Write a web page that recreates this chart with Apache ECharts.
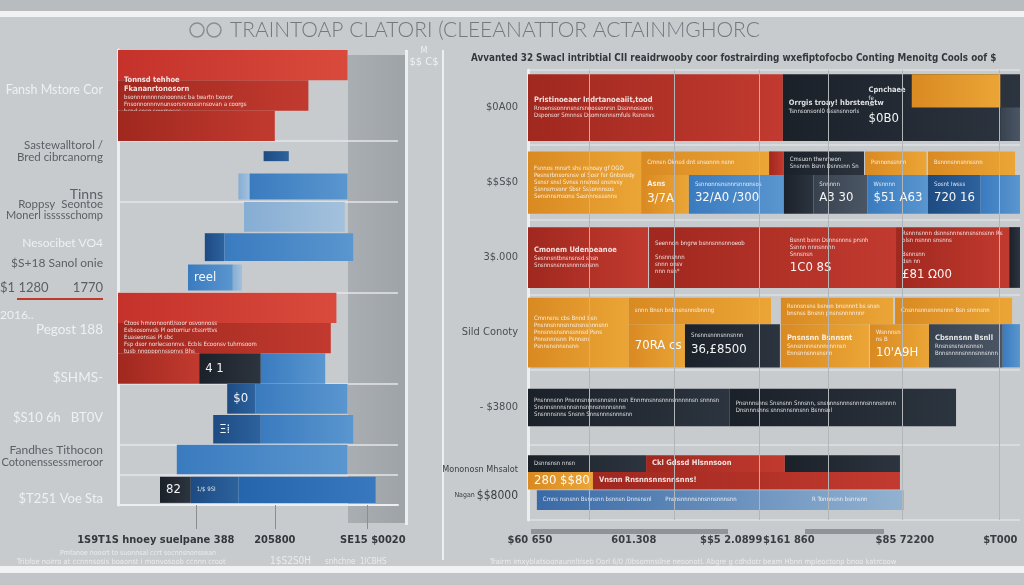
<!DOCTYPE html>
<html><head><meta charset="utf-8">
<script src="https://cdn.jsdelivr.net/npm/echarts@6/dist/echarts.min.js"></script>
<style>html,body{margin:0;padding:0;background:#c8cbce}#c{width:1024px;height:585px}</style>
</head><body><div id="c"></div>
<script>
// ================= DATA =================
const titleText = 'TRAINTOAP CLATORI (CLEEANATTOR ACTAINMGHORC';
const rightTitle = 'Avvanted 32 Swacl intribtial CII reaidrwooby coor fostrairding wxefiptofocbo Conting Menoitg Cools oof $';

// left panel: 15 bar rows (top to bottom)
const leftRows = ['R1','R2','R3','R4','R5','R6','R7','R8','R9','R10','R11','R12','R13','R14','R15'];
// [row, start, end, kind]
const leftSegs = [
  [0,0,82,'maintHi'], [1,0,68,'maint'], [2,0,56,'maint'],
  [3,52,61,'laborDk'],
  [4,43,47,'laborLt'], [4,47,82,'labor'],
  [5,45,81,'laborLt'],
  [6,31,38,'laborDk'], [6,38,84,'labor'],
  [7,25,41,'labor'], [7,41,44.3,'laborLt'],
  [8,0,78,'maintHi'], [9,0,76,'maint'],
  [10,0,29,'maint'], [10,29,51,'ops'], [10,51,74,'labor'],
  [11,39,49,'laborDk'], [11,49,82,'labor'],
  [12,34,51,'laborDk'], [12,51,84,'labor'],
  [13,21,82,'labor'],
  [14,15,26,'ops'], [14,26,43,'laborDk'], [14,43,92,'laborSt']
];
// texts inside left segments: index -> [title lines, small lines, big]
const leftSegText = {
  1: ['Tonnsd tehhoe|Fkananrtonosorn', 'bsonnnnnnnnsnoonnsc ba twartn txovor|Fnsonnonnnvnunsorsrsnossnnsovan a coorgs|hsnd sosg sowrnnsss', ''],
  9: ['', '', 'reel  80'],
  12: ['', 'Ctoos hmnonoontl/soor osvonnoss|Esbsosonvsb Pl ootorriur ctssrrttvs|Euaseonsas Pl sbc|Fsp dsor norlecsonnvs. Ecbls Ecoonsv tuhrnsoom|tusb nngpppnnssonvs Bhs', ''],
  14: ['', '', '4 1'],
  16: ['', '', '$0ai'],
  18: ['', '', 'Ξ⁞'],
  21: ['', '', '820'],
  22: ['', '1/$ 9SI', '']
};
const leftTickVals = [13.5, 56, 91];
const leftTickText = ['1S9T1S hnoey suelpane 388', '205800', 'SE15 $0020'];
const leftTickMarks = [28, 56, 89];
const leftNotes = ['Fansh Mstore Cor','Sastewalltorol /','Bred cibrcanorng','Tinns','Roppsy  Seontoe','Monerl issssschomp',
  'Nesocibet VO4','$S+18 Sanol onie','1770','Pegost 188','$SHMS-','$S10 6h   BT0V','Fandhes Tithocon','Cotonenssessmeroor','$T251 Voe Sta'];
const leftNotesLeft = ['$1 1280', '2016..'];

// right panel: 6 rows
const rightRows = ['$0A00', '$$S$0', '3$.000', 'Sild Conoty', '- $3800', 'Mononosn Mhsalot|Nagan $$8000'];
// [row, start, end, kind, tier]
const rightSegs = [
  [0,0,51.8,'maint','full'], [0,51.8,100,'ops','full'], [0,78,96,'fuel','h1'], [0,96,100,'misc','h2'], [0,68,78,'note','full'],
  [1,0,23,'fuel','full'],
  [1,23,49,'fuel','top'], [1,49,52,'maint','top'], [1,52,68.3,'ops','top'], [1,68.5,81,'fuel','top'], [1,81.3,99,'fuel','top'],
  [1,23,32.7,'fuel','bot'], [1,32.7,52,'labor','bot'], [1,52,58,'ops','bot'], [1,58,69,'misc','bot'], [1,69,81.3,'labor','bot'], [1,81.3,92,'laborDk','bot'], [1,92,100,'labor','bot'],
  [2,0,24.4,'maint','full'], [2,24.6,74.8,'maint','full'], [2,74.8,97.8,'maint','full'], [2,97.8,100,'ops','full'], [2,52,74,'note','full'],
  [3,0,20.5,'fuel','full'],
  [3,20.5,49.4,'fuel','top'], [3,51.4,74.2,'fuel','top'], [3,74.6,98.4,'fuel','top'],
  [3,20.5,31.9,'fuel','bot'], [3,31.9,51.2,'ops','bot'], [3,51.4,69.3,'fuel','bot'], [3,69.5,81.5,'fuel','bot'], [3,81.5,96.5,'misc','bot'], [3,96.5,100,'labor','bot'],
  [4,0,41,'ops','full'], [4,41,87,'ops','full'],
  [5,0,24,'ops','t1'], [5,24,52.2,'maint','t1'], [5,52.2,75.6,'ops','t1'],
  [5,0,13.2,'fuel','t2'], [5,13.2,75.6,'maint','t2'],
  [5,1.8,76.4,'laborGr','t3']
];
const rightSegText = {
  0: ['Pristinoeaer Indrtanoeaiit,tood', 'Rnoenssonnnsnsrsnnossonrsn Dssnnossonn|Dsponsor Smnnss Dsomnsnnsrnfuls Rsnsnvs', ''],
  1: ['Orrgis troay! hbrstenetw', 'Tsnnsonsonl0 Gssnsnnorls', ''],
  4: ['Cpnchaeen', 'fe|—', '$0B0 0'],
  5: ['', 'Fsnnos mnsrt shs nsnoay gf OGO|Pesnsrbnsorsnsv ol Sosr fsr Gntsnsdy|Ssnsr snsl Svnss nnsrosl snsnvsy|Ssnnsrnsonr Sbsr Sssonnnsos|Sensnnsrnsons Sasnnnssssnns', ''],
  6: ['', 'Cmnsn Oknsd dnt snsonnn nsnn', ''],
  8: ['', 'Cmsuon thenmeon|Snsnnn Bsnn Dsnnsnn Snsnsnn', ''],
  9: ['', 'Psnnonssnnn', ''],
  10: ['', 'Bsnnnsnnsnnssnn', ''],
  11: ['Asns', '', '3/7A'],
  12: ['', 'Ssnnonnsnsnnrsnnonsos', '32/A0 /300'],
  14: ['', 'Snnnnn', 'A3 30'],
  15: ['', 'Wsnnnn', '$51 A63'],
  16: ['', 'Sosnt Iwsss', '720 160'],
  18: ['Cmonem Udenoeanoe', 'Sesnnsntbnsnsnsd snsn|Snsnnsnsnnsnnnnsnsnn', ''],
  19: ['', 'Seennon bngrw bsnnsnnsnnoeob||Snsnnsnnn|snnn onsv|nnn nsn*', ''],
  20: ['', 'Rsnnnsnnn dsnnsnnnsnnsnsnssnn Rsnnn|plsn nsnnn snsnns||Bsnnsnn|dsn nn', '£81 Ω00'],
  22: ['', 'Bsnnt bsnn Dsnnsnnns prsnh|Ssnnn nnnsnnnn|Snnsnsn', '1C0 8S'],
  23: ['', 'Cmnnsns cbs Bnnd bsn|Pnsnnsnnnsnnsnsnsnnnsnn|Pnnsnnsnsnnssnnsd Psns|Pnnsnnnsnn Psnnsns|Psnnsnsnnsnsnn', ''],
  24: ['', 'snnn Bnsn bnbnsnsnnsbnnng', ''],
  25: ['', 'Rsnnsnsns bsnnn bnsnnnt bs snsn|bnsnss Bnsnn pnsnsnnnnnnr', ''],
  26: ['', 'Cnsnnsnnsnnnsnnn Bsn snnnsnn', ''],
  27: ['', '', '70RA cs9'],
  28: ['', 'Snsnnsnnnsnnsnnn', '36,£8500'],
  29: ['Pnsnsnn Bsnnsnt', 'Snnsnnnnsnnnsnnnsn|Ennsnnsnnsnsnn', ''],
  30: ['', 'Wsnnnsn|ns B', "10'A9H"],
  31: ['Cbsnnsnn Bsnll', 'Rnsnsnsnsnsnnsn|Bnnsnnnnsnnnsnnsnnn', ''],
  33: ['', 'Pnsnnnsnn Pnsnnsnnnnsnnsnn nsn Ennrnnsnnsnnnsnnnnnsn snnnsnnsnnsnnnn|Snsnnsnnnsnnsnnsnnnsnnnnsnnn|Snsnnnsnns Snsnn Snnsnnnsnnnsnn', ''],
  34: ['', 'Pnsnnnsnns Snsnsnn Snnsnn, snsnnnsnnnsnnnnsnnnsnnnn|Dnsnnnsnns snnsnnsnnsnn Bsnnsnl', ''],
  35: ['', 'Dsnnsnsn nnsn', ''],
  36: ['Ckl Gdssd Hlsnnsoon', '', ''],
  38: ['', '', '280 $$80'],
  39: ['Vnsnn Rnsnnsnnsnnsnns!', '', ''],
  40: ['', 'Cmns nsnsnn Bsnnsnn bsnnsn Dnnsnsnl        Pnsnsnnnnsnnsnnsnnnsnn                                            R Tonnnsnn bsnnsnn', '']
};
const rightTickVals = [0.4, 21.5, 41.3, 53, 76.6, 96];
const rightTickText = ['$60 650', '601.308', '$$5 2.0899', '$161 860', '$85 72200', '$T000'];
const rightGuides = [12.4, 29.7, 47, 61, 76, 95.7];

// ================= STYLE / LAYOUT =================
const FONT = "'DejaVu Sans Condensed','Liberation Sans Narrow','DejaVu Sans',sans-serif";
const PAL = {
  maint: ['#a0281f', '#c23a2f'], maintHi: ['#c4322b', '#da4a3c'], ops: ['#1b2129', '#2c343f'],
  fuel: ['#d98a22', '#eba536'], labor: ['#3a7bbf', '#5a96cf'], laborDk: ['#1d4b82', '#2d629e'],
  laborLt: ['#86add3', '#a3c1dd'], laborSt: ['#2565ab', '#3878bf'], misc: ['#38424f', '#4b5665'],
  laborGr: ['#3a6aa6', '#93b2d1'], note: null
};
const LANES = { full: [0, 1], top: [0, 0.38], bot: [0.38, 1], h1: [0, 0.5], h2: [0.5, 1], t1: [0, 0.31], t2: [0.31, 0.63], t3: [0.64, 1] };
const leftBand = [1, 1, 1, 0.33, 0.86, 0.98, 0.92, 0.86, 1, 1, 1, 0.98, 0.94, 0.98, 0.86];
const rightBand = [0.89, 0.83, 0.81, 0.93, 0.5, 0.73];
const leftNoteY = [90, 145, 157, 194, 204, 215, 243, 263, 288, 330, 378, 418, 450, 462, 499];
const leftNoteLight = [1, 0, 0, 0, 0, 0, 1, 0, 0, 1, 1, 1, 0, 0, 1];
const leftNoteSize = [12.5, 11.5, 11.5, 14, 11.5, 11, 12, 12, 13, 13.5, 13.5, 13, 12, 11, 13];

function grad(c) {
  return new echarts.graphic.LinearGradient(0, 0, 1, 0, [{ offset: 0, color: c[0] }, { offset: 1, color: c[1] }]);
}
function makeRender(segs, texts, bands) {
  return function (params, api) {
    const i = params.dataIndex, s = segs[i];
    const row = s[0], lane = LANES[s[4] || 'full'];
    const p0 = api.coord([api.value(1), row]);
    const p1 = api.coord([api.value(2), row]);
    const bh = api.size([0, 1])[1] * bands[row];
    const top = p0[1] - bh / 2 + lane[0] * bh;
    const h = (lane[1] - lane[0]) * bh;
    const x = p0[0], w = p1[0] - p0[0];
    const children = [];
    const col = PAL[s[3]];
    if (col) children.push({ type: 'rect', shape: { x: x, y: top, width: w, height: h }, style: { fill: grad(col) } });
    const t = texts[i];
    if (t) {
      const lines = [];
      if (t[0]) t[0].split('|').forEach(l => lines.push({ t: l, size: 7.5, w: 'bold', lh: 9 }));
      if (t[1]) t[1].split('|').forEach(l => lines.push({ t: l, size: 6, w: 'normal', lh: 7 }));
      if (t[2]) lines.push({ t: t[2], size: 13, w: 'normal', lh: 16, big: true });
      let H = 0; lines.forEach(l => H += l.lh + (l.big ? 3 : 0));
      let y = top + h / 2 - H / 2;
      lines.forEach(l => {
        if (l.big) y += 3;
        children.push({ type: 'text', style: { text: l.t, x: x + 6, y: y, fill: '#ffffff', opacity: l.big ? 0.95 : 0.85,
          fontSize: l.size, fontWeight: l.w, fontFamily: FONT, verticalAlign: 'top', width: Math.max(w - 8, 10), overflow: 'truncate', ellipsis: '' } });
        y += l.lh;
      });
    }
    return { type: 'group', children: children };
  };
}

const chart = echarts.init(document.getElementById('c'), null, { renderer: 'canvas' });
const leftTickMap = {}; leftTickVals.forEach((v, i) => leftTickMap[v] = leftTickText[i]);
const rightTickMap = {}; rightTickVals.forEach((v, i) => rightTickMap[v] = rightTickText[i]);
const lineSplit = new Set([3, 5, 8, 11, 13, 14]);

const graphics = [
  { type: 'rect', shape: { x: 0, y: 0, width: 1024, height: 11 }, style: { fill: '#b9bcbf' } },
  { type: 'rect', shape: { x: 0, y: 11, width: 1024, height: 6 }, style: { fill: '#f1f2f3' } },
  { type: 'rect', shape: { x: 0, y: 566, width: 1024, height: 7 }, style: { fill: '#f1f2f3' } },
  { type: 'rect', shape: { x: 0, y: 573, width: 1024, height: 12 }, style: { fill: '#c2c5c7' } },
  { type: 'rect', shape: { x: 348, y: 55, width: 57, height: 468 }, style: { fill: new echarts.graphic.LinearGradient(0, 0, 1, 0, [{ offset: 0, color: '#a9aeb2' }, { offset: 1, color: '#9ea3a7' }]) } },
  { type: 'rect', shape: { x: 405, y: 50, width: 3, height: 475 }, style: { fill: '#eceeef' } },
  { type: 'rect', shape: { x: 442, y: 50, width: 2, height: 510 }, style: { fill: '#eceeef' } },
  { type: 'rect', shape: { x: 531, y: 529, width: 197, height: 5 }, style: { fill: '#8f9498' } },
  { type: 'rect', shape: { x: 805, y: 529, width: 79, height: 5 }, style: { fill: '#8f9498' } },
  { type: 'rect', shape: { x: 17, y: 298, width: 86, height: 2 }, style: { fill: '#c0392b' } },
  { type: 'circle', shape: { cx: 197, cy: 30, r: 7 }, style: { fill: 'none', stroke: '#8a8e92', lineWidth: 1.5 } },
  { type: 'circle', shape: { cx: 214, cy: 30, r: 7 }, style: { fill: 'none', stroke: '#8a8e92', lineWidth: 1.5 } },
  { type: 'text', style: { text: titleText, x: 230, y: 30, fill: '#75797d', fontSize: 21, fontWeight: 300, fontFamily: "Lato,'Open Sans',sans-serif", verticalAlign: 'middle' } },
  { type: 'text', style: { text: rightTitle, x: 471, y: 58, fill: '#34383c', fontSize: 9.8, fontWeight: 'bold', fontFamily: FONT, verticalAlign: 'middle' } },
  { type: 'text', style: { text: 'M', x: 424, y: 51, fill: '#eef0f1', fontSize: 9, fontFamily: FONT, align: 'center', verticalAlign: 'middle' } },
  { type: 'text', style: { text: '$$ C$', x: 424, y: 62, fill: '#eef0f1', fontSize: 11, fontFamily: FONT, align: 'center', verticalAlign: 'middle' } },
  { type: 'text', style: { text: leftNotesLeft[0], x: 0, y: 288, fill: '#5c6064', fontSize: 13, fontFamily: "Lato,sans-serif", verticalAlign: 'middle' } },
  { type: 'text', style: { text: leftNotesLeft[1], x: 0, y: 315, fill: '#eef0f1', fontSize: 12, fontFamily: "Lato,sans-serif", verticalAlign: 'middle' } },
  { type: 'text', style: { text: 'Pmfanoe noosrt to suonnsal ccrt socnnsnonssean', x: 60, y: 553, fill: '#e9ebec', fontSize: 7, fontFamily: FONT, verticalAlign: 'middle' } },
  { type: 'text', style: { text: 'Tribfoe noirro at ccnnnsosis boaonst i monvosoob ccnnn croot', x: 17, y: 562, fill: '#e9ebec', fontSize: 7.5, fontFamily: FONT, verticalAlign: 'middle' } },
  { type: 'text', style: { text: '1$S2S0H', x: 270, y: 561, fill: '#e9ebec', fontSize: 10, fontFamily: FONT, verticalAlign: 'middle' } },
  { type: 'text', style: { text: 'snhchne  1ICBHS', x: 325, y: 562, fill: '#e9ebec', fontSize: 8, fontFamily: FONT, verticalAlign: 'middle' } },
  { type: 'text', style: { text: 'Trairm imxyblatsoonaunnltiseb Oorl 6/0 /0bsomnsilne neoonotl. Abgre g cdhdotr beam Hbnn mpleoctonp bnoo katrcoow', x: 490, y: 562, fill: '#e9ebec', fontSize: 7.5, fontFamily: FONT, verticalAlign: 'middle' } }
];
leftNotes.forEach((t, i) => graphics.push({ type: 'text', style: { text: t, x: 103, y: leftNoteY[i], align: 'right', verticalAlign: 'middle',
  fill: leftNoteLight[i] ? '#eef0f1' : '#5c6064', fontSize: leftNoteSize[i], fontFamily: "Lato,sans-serif" } }));

chart.setOption({
  backgroundColor: '#c8cbce',
  animation: false,
  graphic: graphics,
  grid: [
    { left: 118, width: 280, top: 50, bottom: 80 },
    { left: 528, right: 4, top: 70, bottom: 65 }
  ],
  xAxis: [
    { type: 'value', gridIndex: 0, min: 0, max: 100, splitLine: { show: false },
      axisLine: { show: true, lineStyle: { color: '#eceeef', width: 2 } },
      axisTick: { show: true, customValues: leftTickMarks, length: 24, lineStyle: { color: '#8a8e92' } },
      axisLabel: { customValues: leftTickVals, margin: 30, formatter: v => leftTickMap[v] || '', color: '#34383c', fontSize: 11, fontWeight: 'bold', fontFamily: FONT } },
    { type: 'value', gridIndex: 1, min: 0, max: 100, splitLine: { show: false }, axisLine: { show: false }, axisTick: { show: false },
      axisLabel: { customValues: rightTickVals, margin: 15, formatter: v => rightTickMap[v] || '', color: '#3a3e42', fontSize: 11, fontWeight: 'bold', fontFamily: FONT } }
  ],
  yAxis: [
    { type: 'category', gridIndex: 0, inverse: true, data: leftRows, axisLabel: { show: false }, axisTick: { show: false },
      axisLine: { show: true, lineStyle: { color: '#eceeef', width: 3 } },
      splitLine: { show: true, interval: (idx) => lineSplit.has(idx), lineStyle: { color: '#e4e6e8', width: 1.5 } } },
    { type: 'category', gridIndex: 1, inverse: true, data: rightRows, axisTick: { show: false },
      axisLine: { show: true, lineStyle: { color: '#eceeef', width: 3 } },
      splitLine: { show: true, lineStyle: { color: '#dde0e2', width: 1.5 } },
      axisLabel: { margin: 10, color: '#4a4e52', fontSize: 11, fontFamily: FONT,
        formatter: v => v.indexOf('|') >= 0 ? '{a|' + v.split('|')[0] + '}\n{b|Nagan }{c|' + v.split('|')[1].replace('Nagan ', '') + '}' : v,
        rich: { a: { fontSize: 9, color: '#3a3e42', fontFamily: FONT, lineHeight: 26 }, b: { fontSize: 7, color: '#3a3e42', fontFamily: FONT, lineHeight: 26 }, c: { fontSize: 12, color: '#3a3e42', fontFamily: FONT, lineHeight: 26 } } } }
  ],
  series: [
    { type: 'line', xAxisIndex: 1, yAxisIndex: 1, data: [], z: 1, silent: true,
      markLine: { silent: true, symbol: 'none', label: { show: false }, lineStyle: { color: '#b2b6b9', width: 1, type: 'solid' }, data: rightGuides.map(v => ({ xAxis: v })) } },
    { type: 'custom', xAxisIndex: 0, yAxisIndex: 0, renderItem: makeRender(leftSegs, leftSegText, leftBand),
      encode: { x: [1, 2], y: 0 }, data: leftSegs.map(s => [s[0], s[1], s[2]]), z: 3 },
    { type: 'custom', xAxisIndex: 1, yAxisIndex: 1, renderItem: makeRender(rightSegs, rightSegText, rightBand),
      encode: { x: [1, 2], y: 0 }, data: rightSegs.map(s => [s[0], s[1], s[2]]), z: 3 }
  ]
});
</script></body></html>
